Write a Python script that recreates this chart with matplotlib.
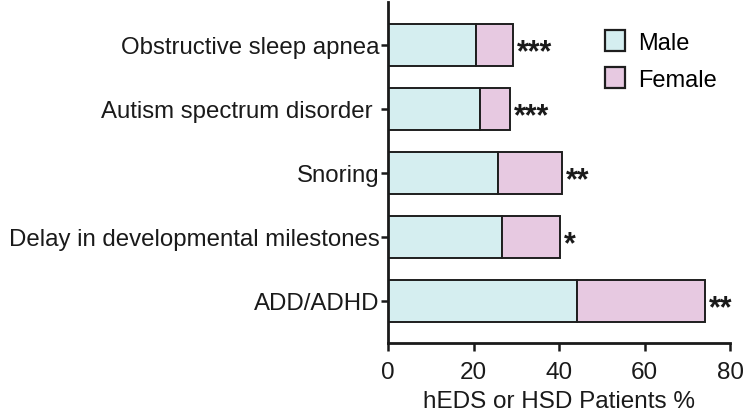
import matplotlib
matplotlib.use("Agg")
import matplotlib.pyplot as plt
from matplotlib.patches import Patch

plt.rcParams['font.family'] = ['Liberation Sans', 'DejaVu Sans']

categories = ["Obstructive sleep apnea", "Autism spectrum disorder ", "Snoring",
              "Delay in developmental milestones", "ADD/ADHD"]
male = [20.5, 21.5, 25.8, 26.7, 44.1]
total = [29.3, 28.6, 40.8, 40.3, 74.2]
female = [t - m for t, m in zip(total, male)]
stars = ["***", "***", "**", "*", "**"]
xticks = [0, 20, 40, 60, 80]

male_color = "#d5eef0"
female_color = "#e7c9e1"
edge = "#1e1e1e"
txt = '#1a1a1a'

fig = plt.figure(figsize=(7.44, 4.14), dpi=100)
ax = fig.add_axes([388/744, 1 - 344/414, (730-388)/744, (344-3)/414])

y = list(range(len(categories)))
ax.barh(y, male, height=0.66, color=male_color, edgecolor=edge, linewidth=1.4, label="Male")
ax.barh(y, female, left=male, height=0.66, color=female_color, edgecolor=edge, linewidth=1.4, label="Female")

for yi, t, s in zip(y, total, stars):
    ax.text(t + 0.8, yi + 0.12, s, va='center', ha='left', fontsize=22,
            fontweight='bold', color=txt)

ax.set_ylim(len(categories) - 1 + 0.66, -0.67)
ax.set_xlim(0, 80)
ax.set_yticks(y)
ax.set_yticklabels(categories, fontsize=17.3, color=txt)
ax.set_xticks(xticks)
ax.set_xticklabels([str(v) for v in xticks], fontsize=17.5, color=txt)
ax.set_xlabel("hEDS or HSD Patients %", fontsize=17.5, color=txt, labelpad=5)

for sp in ['top', 'right']:
    ax.spines[sp].set_visible(False)
for sp in ['left', 'bottom']:
    ax.spines[sp].set_linewidth(2)
    ax.spines[sp].set_color(txt)
ax.tick_params(axis='y', length=5, width=1.8, pad=1, colors=txt)
ax.tick_params(axis='x', length=6, width=1.8, pad=7, colors=txt)

handles = [Patch(facecolor=male_color, edgecolor=edge, linewidth=1.6, label="Male"),
           Patch(facecolor=female_color, edgecolor=edge, linewidth=1.6, label="Female")]
fig.legend(handles=handles, loc='upper left', bbox_to_anchor=(584/744, 1 - 10/414),
           frameon=False, fontsize=17, handlelength=0.85, handleheight=1.0,
           handletextpad=0.55, labelspacing=0.55)

fig.savefig("out.png", dpi=100)
